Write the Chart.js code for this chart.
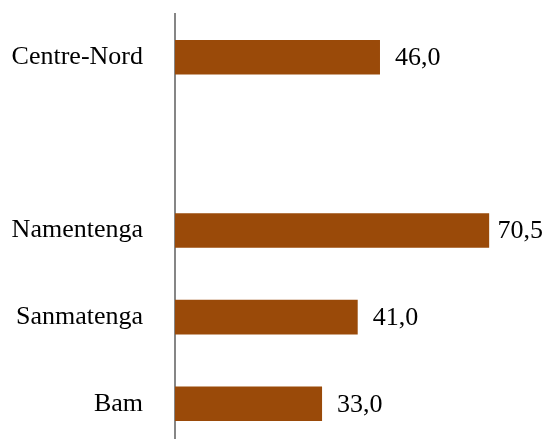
<!DOCTYPE html>
<html>
<head>
<meta charset="utf-8">
<script src="https://cdn.jsdelivr.net/npm/chart.js@4/dist/chart.umd.min.js"></script>
<style>
  html, body { margin: 0; padding: 0; background: #fff; overflow: hidden; }
  #bars { display: block; }
</style>
</head>
<body>
<canvas id="bars" width="547" height="447"></canvas>
<script>
// Regions and their values (blank row separates the region total)
const regions = ["Centre-Nord", "", "Namentenga", "Sanmatenga", "Bam"];
const values = [46.0, null, 70.5, 41.0, 33.0];
const xMax = 80;

const barColor = "#9a4a09";
const fontFamily = "'Liberation Serif', 'Times New Roman', serif";

// Writes the value next to the end of each bar, French decimal comma
const valueLabels = {
  id: "valueLabels",
  afterDatasetsDraw(chart) {
    const ctx = chart.ctx;
    const meta = chart.getDatasetMeta(0);
    ctx.save();
    ctx.font = "26px " + fontFamily;
    ctx.fillStyle = "#000";
    ctx.textBaseline = "middle";
    ctx.textAlign = "left";
    meta.data.forEach((bar, i) => {
      const v = values[i];
      if (v === null) return;
      const text = v.toFixed(1).replace(".", ",");
      const w = ctx.measureText(text).width;
      let x = bar.x + 15;
      if (x + w > chart.width - 4) x = chart.width - 4 - w;
      ctx.fillText(text, x, bar.y + 1);
    });
    ctx.restore();
  }
};

const ctx = document.getElementById("bars").getContext("2d");
new Chart(ctx, {
  type: "bar",
  data: {
    labels: regions,
    datasets: [{
      data: values,
      backgroundColor: barColor,
      borderWidth: 0,
      barPercentage: 0.4,
      categoryPercentage: 1.0,
    }],
  },
  options: {
    indexAxis: "y",
    responsive: false,
    animation: false,
    layout: {
      padding: { top: 14, right: 15.5, bottom: 0, left: 0 },
    },
    plugins: {
      legend: { display: false },
      tooltip: { enabled: false },
    },
    scales: {
      x: {
        display: false,
        min: 0,
        max: xMax,
      },
      y: {
        afterFit(scale) {
          scale.width = 175;
          // labels sit beside their bars, no extra room needed above/below
          scale.paddingTop = 0;
          scale.paddingBottom = 0;
        },
        grid: { display: false, drawTicks: false },
        border: { display: true, color: "#868686", width: 2 },
        ticks: {
          padding: 32,
          color: "#000",
          font: { family: fontFamily, size: 26 },
        },
      },
    },
  },
  plugins: [valueLabels],
});
</script>
</body>
</html>
